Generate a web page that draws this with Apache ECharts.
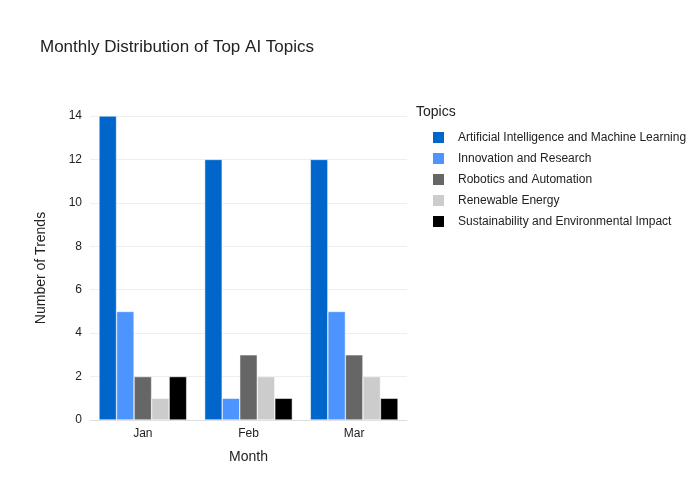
<!DOCTYPE html>
<html>
<head>
<meta charset="utf-8">
<script src="https://cdn.jsdelivr.net/npm/echarts@6/dist/echarts.min.js"></script>
<style>html,body{margin:0;padding:0;background:#fff}#chart{width:700px;height:500px}</style>
</head>
<body>
<div id="chart"></div>
<script>
var months = ['Jan', 'Feb', 'Mar'];
var topics = ['Artificial Intelligence and Machine Learning', 'Innovation and Research',
    'Robotics and Automation', 'Renewable Energy', 'Sustainability and Environmental Impact'];
var colors = ['#0066cc', '#4d94ff', '#666666', '#cccccc', '#000000'];
// values per topic, in month order
var aiMl = [14, 12, 12];
var innovation = [5, 1, 5];
var robotics = [2, 3, 3];
var renewable = [1, 2, 2];
var sustainability = [2, 1, 1];
var values = [aiMl, innovation, robotics, renewable, sustainability];

var chart = echarts.init(document.getElementById('chart'));
var font = 'Liberation Sans, Arial, sans-serif';

var series = [];
for (var i = 0; i < topics.length; i++) {
    series.push({
        name: topics[i],
        type: 'bar',
        data: values[i],
        barGap: '0%',
        barCategoryGap: '17%',
        itemStyle: { color: colors[i], borderColor: '#fff', borderWidth: 0.5 }
    });
}

chart.setOption({
    animation: false,
    title: {
        text: 'Monthly Distribution of Top AI Topics',
        left: 35, top: 34,
        textStyle: { fontFamily: font, fontSize: 17, fontWeight: 'normal', color: '#222' }
    },
    graphic: [{
        type: 'text', left: 416, top: 105,
        style: { text: 'Topics', font: '14px Liberation Sans, Arial', fill: '#222' }
    }],
    legend: {
        orient: 'vertical', left: 426, top: 125,
        itemWidth: 13, itemHeight: 13, itemGap: 6, icon: 'rect',
        textStyle: { fontFamily: font, fontSize: 12, color: '#222', padding: [0, 0, 0, 8] },
        data: topics
    },
    grid: { left: 90, right: 293, top: 116, bottom: 80 },
    xAxis: {
        type: 'category', data: months,
        name: 'Month', nameLocation: 'middle', nameGap: 30,
        nameTextStyle: { fontFamily: font, fontSize: 14, color: '#222' },
        axisTick: { show: false },
        axisLine: { lineStyle: { color: '#ddd' } },
        axisLabel: { fontFamily: font, fontSize: 12, color: '#222' }
    },
    yAxis: {
        type: 'value', min: 0, max: 14, interval: 2,
        name: 'Number of Trends', nameLocation: 'middle', nameGap: 42,
        nameTextStyle: { fontFamily: font, fontSize: 14, color: '#222' },
        axisLabel: { fontFamily: font, fontSize: 12, color: '#222' },
        splitLine: { lineStyle: { color: '#eee' } }
    },
    series: series
});
</script>
</body>
</html>
